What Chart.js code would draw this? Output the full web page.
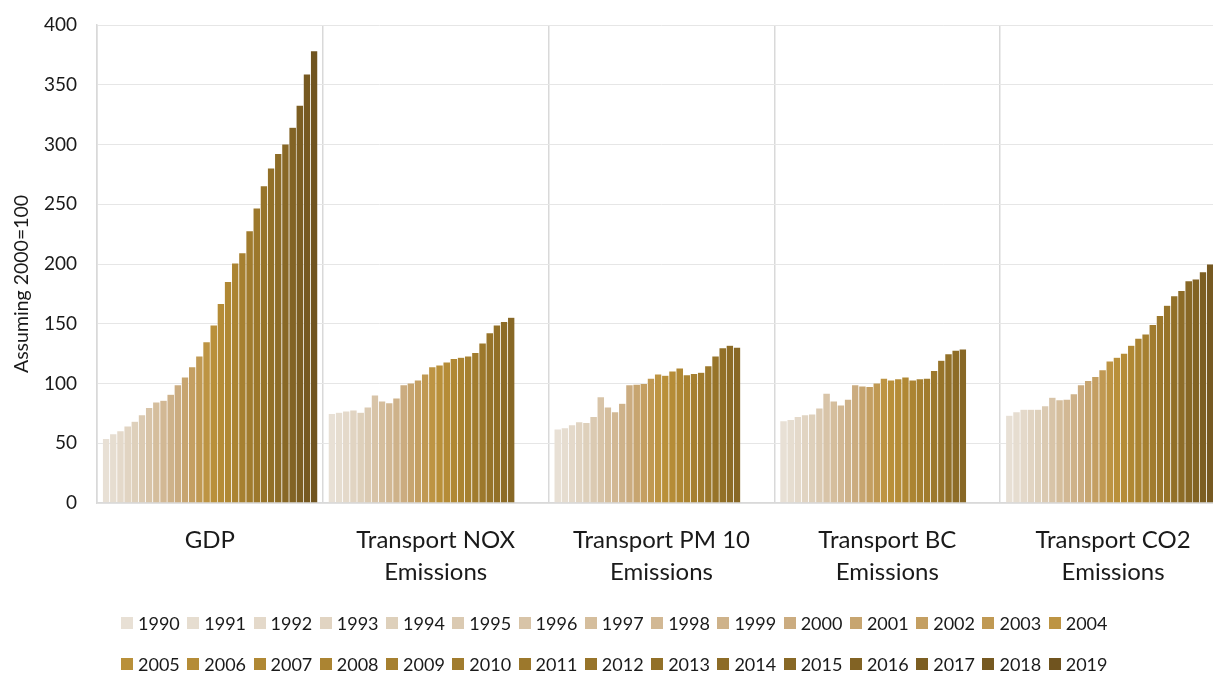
<!DOCTYPE html>
<html>
<head>
<meta charset="utf-8">
<script src="https://cdn.jsdelivr.net/npm/chart.js@4.4.1/dist/chart.umd.min.js"></script>
<style>
  html, body { margin: 0; padding: 0; background: #fff; overflow: hidden; }
  #wrap { position: relative; width: 1236px; height: 673px; }
  #legend { position: absolute; left: 0; top: 0; width: 1236px; font-family: Lato, sans-serif; font-size: 18px; color: #1a1a1a; }
  .row { position: absolute; left: 0; width: 100%; display: flex; justify-content: center; height: 22px; align-items: center; }
  .item { display: flex; align-items: center; margin-right: 7.5px; }
  .sw { width: 12px; height: 12px; margin-right: 5px; }
</style>
</head>
<body>
<div id="wrap">
  <canvas id="chart" width="1236" height="673"></canvas>
  <div id="legend"></div>
</div>
<script>
const categories = ["GDP", ["Transport NOX", "Emissions"], ["Transport PM 10", "Emissions"], ["Transport BC", "Emissions"], ["Transport CO2", "Emissions"]];
const years = ["1990","1991","1992","1993","1994","1995","1996","1997","1998","1999","2000","2001","2002","2003","2004",
               "2005","2006","2007","2008","2009","2010","2011","2012","2013","2014","2015","2016","2017","2018","2019"];

// one value per year, 1990..2019
const gdp  = [54, 58, 60.5, 64.5, 68.5, 74, 80, 84.5, 86, 91, 99, 105.5, 114, 123, 135, 149, 167, 185.5, 201, 209.5, 228, 247, 265.5, 280.5, 292.5, 300.5, 314.5, 333, 359, 378.5];
const nox  = [75, 76, 77, 78, 76, 80.5, 90.5, 85.5, 84, 88, 99, 100.5, 103, 108, 114, 115.5, 118, 121, 122, 123, 126, 134, 142.5, 149, 152, 155.5, null, null, null, null];
const pm10 = [62, 63, 65.5, 68, 67.5, 72.5, 89, 80.5, 76.5, 83.5, 99, 99.5, 100, 104.5, 108, 107, 110.5, 113, 107.5, 108.5, 109.5, 115, 123, 130, 132, 130.5, null, null, null, null];
const bc   = [69, 70, 72.5, 74, 74.5, 79.5, 92, 85.5, 82, 87, 99, 98, 97.5, 100.5, 104.5, 103, 104, 105.5, 103, 104, 104.5, 111, 119.5, 125, 128, 129, null, null, null, null];
const co2  = [73.5, 76.5, 78.5, 78.5, 78.5, 81.5, 88.5, 86.5, 87, 91.5, 99, 102.5, 106, 111.5, 119, 122, 125.5, 132, 138, 141.5, 149.5, 157, 165.5, 173.5, 178, 186, 187.5, 193.5, 200, 205];

const yTicks = [0, 50, 100, 150, 200, 250, 300, 350, 400];

const colors = ["#E8E0D5","#E6DDD0","#E4D9CA","#E1D4C2","#DED0BB","#DBCAB2","#D8C4A8","#D5BE9D","#D2B894","#CEB28A",
                "#CBAC80","#C7A570","#C49F62","#C09953","#BD9443","#B9903A","#B58C37","#B08834","#AB8432","#A68030",
                "#A17C2E","#9C782C","#97742A","#927028","#8D6C27","#886826","#826324","#7C5E22","#765921","#70541F"];

const gridColor = "#d9d9d9";
const textColor = "#1a1a1a";

const datasets = years.map((y, i) => ({
  label: y,
  data: [gdp[i], nox[i], pm10[i], bc[i], co2[i]],
  backgroundColor: colors[i],
  borderColor: "rgba(255,255,255,0.25)",
  borderWidth: { left: 0.6, right: 0, top: 0.6, bottom: 0 },
  borderSkipped: false,
  categoryPercentage: 0.953,
  barPercentage: 1.0,
}));

new Chart(document.getElementById("chart"), {
  type: "bar",
  data: { labels: categories, datasets: datasets },
  options: {
    responsive: false,
    animation: false,
    layout: { padding: { top: 25, right: 10, left: 0, bottom: 0 } },
    plugins: {
      legend: { display: false },
      tooltip: { enabled: false },
    },
    scales: {
      x: {
        grid: { color: gridColor, lineWidth: 1.5, drawTicks: false, offset: true },
        border: { color: gridColor, width: 1.5 },
        ticks: {
          color: textColor,
          padding: 21,
          maxRotation: 0,
          autoSkip: false,
          font: { family: "Lato", size: 24, lineHeight: 1.333 },
        },
        afterFit: (s) => { s.height = 170; },
      },
      y: {
        min: 0,
        max: 400,
        afterBuildTicks: (s) => { s.ticks = yTicks.map((v) => ({ value: v })); },
        // invisible tick marks push the labels left without adding top padding
        grid: { color: "#e6e6e6", lineWidth: 1, drawTicks: true, tickLength: 18, tickColor: "rgba(0,0,0,0)" },
        border: { color: gridColor, width: 1.5 },
        ticks: { color: textColor, padding: 2, font: { family: "Lato", size: 19 } },
        title: {
          display: true,
          text: "Assuming 2000=100        ",
          color: textColor,
          font: { family: "Lato", size: 19.5 },
          padding: { top: 10, bottom: 0 },
        },
        afterFit: (s) => { s.width = 97; },
      },
    },
  },
});

// legend in two rows, like the original
const legend = document.getElementById("legend");
const rowTops = [612, 653];
[years.slice(0, 15), years.slice(15)].forEach((rowYears, r) => {
  const row = document.createElement("div");
  row.className = "row";
  row.style.top = rowTops[r] + "px";
  rowYears.forEach((y) => {
    const it = document.createElement("div");
    it.className = "item";
    const sw = document.createElement("span");
    sw.className = "sw";
    sw.style.background = colors[years.indexOf(y)];
    const tx = document.createElement("span");
    tx.textContent = y;
    it.appendChild(sw);
    it.appendChild(tx);
    row.appendChild(it);
  });
  legend.appendChild(row);
});
</script>
</body>
</html>
